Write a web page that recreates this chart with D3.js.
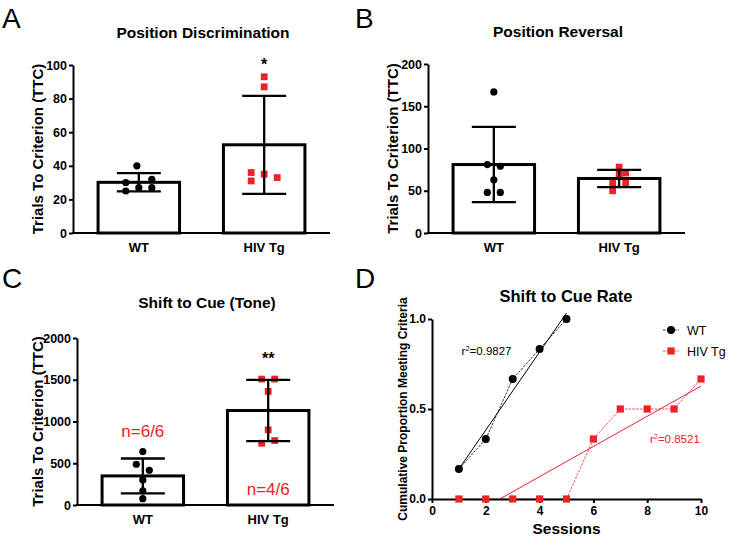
<!DOCTYPE html>
<html><head><meta charset="utf-8">
<script src="https://cdn.jsdelivr.net/npm/d3@7"></script>
<style>
body{margin:0;background:#fff}
svg{display:block;font-family:"Liberation Sans",Arial,Helvetica,sans-serif}
</style></head><body>
<svg id="chart" width="730" height="544"></svg>
<script>
// ---------- DATA ----------
const groups = ["WT", "HIV Tg"];

// Panel A: Position Discrimination
const discTicks = [0, 20, 40, 60, 80, 100];
const discWT = [40, 30, 32, 25, 27, 27];
const discHIV = [93, 87, 36, 31, 35, 33];
const discWTJitter = [-0.3, -2, 2, -2, 0, 2];
const discHIVJitter = [0, 0, -2, -2, 0, 2];

// Panel B: Position Reversal
const revTicks = [0, 50, 100, 150, 200];
const revWT = [167, 81, 79, 63, 48, 48];
const revHIV = [78, 70, 71, 59, 59, 50];
const revWTJitter = [0, -1, 1, 0, -1, 1];
const revHIVJitter = [0, 0, 1, -1, 1, -1];

// Panel C: Shift to Cue (Tone)
const cueTicks = [0, 500, 1000, 1500, 2000];
const cueWT = [640, 488, 416, 300, 170, 76];
const cueHIV = [1508, 1508, 1360, 900, 740, 772];
const cueWTJitter = [0, -1, 1, 0, 0, 0];
const cueHIVJitter = [-1, 1, 0, 0, -1, 1];
const cueN = ["n=6/6", "n=4/6"];

// Panel D: Shift to Cue Rate
const sessionsWT = [1, 2, 3, 4, 5];
const rateWT = [0.1667, 0.3333, 0.6667, 0.8333, 1.0];
const sessionsHIV = [1, 2, 3, 4, 5, 6, 7, 8, 9, 10];
const rateHIV = [0, 0, 0, 0, 0, 0.3333, 0.5, 0.5, 0.5, 0.6667];
const rateXTicks = [0, 2, 4, 6, 8, 10];
const rateYTicks = [0, 0.5, 1.0];
const rateR2 = ["0.9827", "0.8521"];

const titles = ["Position Discrimination", "Position Reversal", "Shift to Cue (Tone)", "Shift to Cue Rate"];
const yLabel = "Trials To Criterion (TTC)";
const yLabelD = "Cumulative Proportion Meeting Criteria";
const xLabelD = "Sessions";
const panelLetters = ["A", "B", "C", "D"];

// ---------- DRAWING ----------
const RED = "#EC2227";
const svg = d3.select("#chart");

function styleAxis(g, size) {
  g.attr("font-family", null).attr("font-size", size).attr("font-weight", "bold");
  g.selectAll("path,line").attr("stroke", "#000").attr("stroke-width", 2);
  g.selectAll("text").attr("fill", "#000");
}

function barPanel(o) {
  const g = svg.append("g");
  const x = d3.scaleBand().domain(groups).range([o.left, o.left + 257])
    .paddingInner(0.35).paddingOuter(0.2);
  const y = d3.scaleLinear().domain([0, d3.max(o.ticks)]).range([o.bottom, o.top]);
  const slot = 6.5;

  g.append("text").attr("x", o.left + 130).attr("y", o.titleY)
    .attr("text-anchor", "middle").attr("font-size", 15.5).attr("font-weight", "bold")
    .text(o.title);

  g.append("text")
    .attr("transform", `translate(${o.labelX},${(o.top + o.bottom) / 2}) rotate(-90)`)
    .attr("text-anchor", "middle").attr("font-size", 15).attr("font-weight", "bold")
    .text(yLabel);

  const series = [
    {name: groups[0], vals: o.wt, jit: o.wtJ, shape: "circle", color: "#000"},
    {name: groups[1], vals: o.hiv, jit: o.hivJ, shape: "square", color: RED}
  ];

  series.forEach(s => {
    const m = d3.mean(s.vals), sd = d3.deviation(s.vals);
    const cx = x(s.name) + x.bandwidth() / 2;
    g.append("rect").attr("x", x(s.name)).attr("y", y(m))
      .attr("width", x.bandwidth()).attr("height", y(0) - y(m))
      .attr("fill", "#fff").attr("stroke", "#000").attr("stroke-width", 3);
    s.vals.forEach((v, i) => {
      const px = cx + s.jit[i] * slot, py = y(v);
      if (s.shape === "circle") {
        g.append("circle").attr("cx", px).attr("cy", py).attr("r", 3.6).attr("fill", s.color);
      } else {
        g.append("rect").attr("x", px - 3.4).attr("y", py - 3.4).attr("width", 6.8).attr("height", 6.8).attr("fill", s.color);
      }
    });
    const cap = 22;
    const eb = g.append("g").attr("stroke", "#000").attr("stroke-width", 2.3);
    eb.append("line").attr("x1", cx).attr("x2", cx).attr("y1", y(m - sd)).attr("y2", y(m + sd));
    eb.append("line").attr("x1", cx - cap).attr("x2", cx + cap).attr("y1", y(m + sd)).attr("y2", y(m + sd));
    eb.append("line").attr("x1", cx - cap).attr("x2", cx + cap).attr("y1", y(m - sd)).attr("y2", y(m - sd));
  });

  const ya = g.append("g").attr("transform", `translate(${o.left},0)`)
    .call(d3.axisLeft(y).tickValues(o.ticks).tickFormat(d3.format("d"))
      .tickSize(4).tickPadding(2).tickSizeOuter(0));
  styleAxis(ya, 12.5);
  g.append("line").attr("x1", o.left - 1).attr("x2", o.left + 257)
    .attr("y1", o.bottom).attr("y2", o.bottom).attr("stroke", "#000").attr("stroke-width", 2);
  groups.forEach(n => {
    g.append("text").attr("x", x(n) + x.bandwidth() / 2).attr("y", o.bottom + 19)
      .attr("text-anchor", "middle").attr("font-size", 13).attr("font-weight", "bold").text(n);
  });

  if (o.sig) {
    const hx = x(groups[1]) + x.bandwidth() / 2;
    g.append("text").attr("x", hx).attr("y", o.sigY).attr("text-anchor", "middle")
      .attr("font-size", 16).attr("font-weight", "bold").text(o.sig);
  }
  return {g, x, y};
}

barPanel({left: 73, top: 65, bottom: 233, ticks: discTicks, wt: discWT, hiv: discHIV,
  wtJ: discWTJitter, hivJ: discHIVJitter, title: titles[0], titleY: 38, labelX: 43,
  sig: "*", sigY: 70});
barPanel({left: 428, top: 64, bottom: 233, ticks: revTicks, wt: revWT, hiv: revHIV,
  wtJ: revWTJitter, hivJ: revHIVJitter, title: titles[1], titleY: 37, labelX: 398});
const pc = barPanel({left: 77, top: 338, bottom: 505, ticks: cueTicks, wt: cueWT, hiv: cueHIV,
  wtJ: cueWTJitter, hivJ: cueHIVJitter, title: titles[2], titleY: 308, labelX: 43,
  sig: "**", sigY: 364});
cueN.forEach((t, i) => {
  pc.g.append("text").attr("x", pc.x(groups[i]) + pc.x.bandwidth() / 2)
    .attr("y", i === 0 ? 437 : 495).attr("text-anchor", "middle")
    .attr("font-size", 17).attr("fill", RED).text(t);
});

// Panel D
(function () {
  const g = svg.append("g");
  const x = d3.scaleLinear().domain([0, 10]).range([432, 701]);
  const y = d3.scaleLinear().domain([0, 1]).range([499, 319]);

  g.append("text").attr("x", 566).attr("y", 302).attr("text-anchor", "middle")
    .attr("font-size", 16.5).attr("font-weight", "bold").text(titles[3]);
  g.append("text").attr("transform", `translate(407,${(y(0) + y(1)) / 2}) rotate(-90)`)
    .attr("text-anchor", "middle").attr("font-size", 12).attr("font-weight", "bold").text(yLabelD);
  g.append("text").attr("x", (x(0) + x(10)) / 2).attr("y", 534).attr("text-anchor", "middle")
    .attr("font-size", 15.5).attr("font-weight", "bold").text(xLabelD);

  function linreg(xs, ys) {
    const mx = d3.mean(xs), my = d3.mean(ys);
    let sxy = 0, sxx = 0;
    xs.forEach((v, i) => { sxy += (v - mx) * (ys[i] - my); sxx += (v - mx) ** 2; });
    const b = sxy / sxx;
    return {b, a: my - b * mx};
  }

  const sets = [
    {xs: sessionsWT, ys: rateWT, color: "#000", shape: "circle"},
    {xs: sessionsHIV, ys: rateHIV, color: RED, shape: "square"}
  ];
  sets.forEach(s => {
    const pts = s.xs.map((v, i) => [v, s.ys[i]]);
    g.append("path").datum(pts)
      .attr("d", d3.line().x(d => x(d[0])).y(d => y(d[1])))
      .attr("fill", "none").attr("stroke", s.color).attr("stroke-width", 0.8)
      .attr("stroke-dasharray", "2.5,1.2");
    const {a, b} = linreg(s.xs, s.ys);
    let x0 = d3.min(s.xs), x1 = d3.max(s.xs);
    if (a + b * x0 < 0) x0 = -a / b;
    g.append("line").attr("x1", x(x0)).attr("y1", y(a + b * x0))
      .attr("x2", x(x1)).attr("y2", y(a + b * x1))
      .attr("stroke", s.color).attr("stroke-width", 1);
  });

  const xa = g.append("g").attr("transform", `translate(0,${y(0)})`)
    .call(d3.axisBottom(x).tickValues(rateXTicks).tickSize(4).tickPadding(3).tickSizeOuter(0));
  styleAxis(xa, 12);
  const ya = g.append("g").attr("transform", `translate(${x(0)},0)`)
    .call(d3.axisLeft(y).tickValues(rateYTicks).tickFormat(d3.format(".1f")).tickSize(4).tickPadding(2).tickSizeOuter(0));
  styleAxis(ya, 12);

  sets.forEach(s => {
    s.xs.forEach((v, i) => {
      const px = x(v), py = y(s.ys[i]);
      if (s.shape === "circle") g.append("circle").attr("cx", px).attr("cy", py).attr("r", 4).attr("fill", s.color);
      else g.append("rect").attr("x", px - 3.6).attr("y", py - 3.6).attr("width", 7.2).attr("height", 7.2).attr("fill", s.color);
    });
  });

  function r2Label(px, py, val, color) {
    const t = g.append("text").attr("x", px).attr("y", py).attr("font-size", 11.5).attr("fill", color);
    t.append("tspan").text("r");
    t.append("tspan").attr("font-size", 7.5).attr("dy", -4.5).text("2");
    t.append("tspan").attr("dy", 4.5).text("=" + val);
  }
  r2Label(x(1.1), y(0.8), rateR2[0], "#000");
  r2Label(x(8.1), y(0.31), rateR2[1], RED);

  const leg = [{name: groups[0], color: "#000", shape: "circle", yy: 330},
               {name: groups[1], color: RED, shape: "square", yy: 351}];
  leg.forEach(l => {
    g.append("line").attr("x1", 663).attr("x2", 679).attr("y1", l.yy).attr("y2", l.yy)
      .attr("stroke", l.color).attr("stroke-width", 0.8).attr("stroke-dasharray", "2.5,1.2");
    if (l.shape === "circle") g.append("circle").attr("cx", 671).attr("cy", l.yy).attr("r", 4).attr("fill", l.color);
    else g.append("rect").attr("x", 667.4).attr("y", l.yy - 3.6).attr("width", 7.2).attr("height", 7.2).attr("fill", l.color);
    g.append("text").attr("x", 687).attr("y", l.yy + 4.5).attr("font-size", 12.5).attr("fill", "#000").text(l.name);
  });
})();

const letterPos = [[2, 28], [355, 28], [2, 288], [355, 288]];
panelLetters.forEach((L, i) => {
  svg.append("text").attr("x", letterPos[i][0]).attr("y", letterPos[i][1])
    .attr("font-size", 28).attr("fill", "#000").text(L);
});
</script>
</body></html>
